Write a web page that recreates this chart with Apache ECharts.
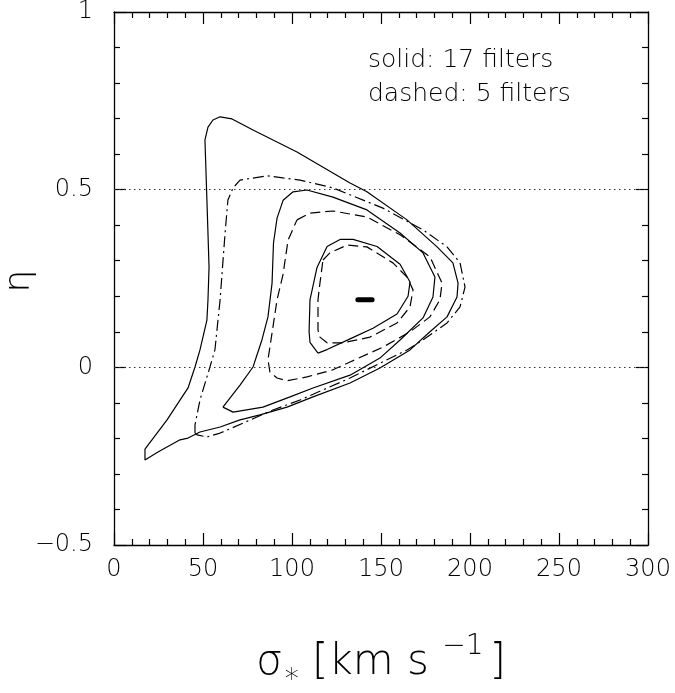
<!DOCTYPE html>
<html lang="en">
<head>
    <meta charset="UTF-8">
    <title>contours</title>
    <script src="https://cdn.jsdelivr.net/npm/echarts@6/dist/echarts.min.js"></script>
    <style>
        html, body { margin: 0; padding: 0; background: #fff; }
        #main { width: 675px; height: 693px; }
    </style>
</head>
<body>
    <div id="main"></div>
    <script>
        // axis ranges / ticks
        var xTicks = [0, 50, 100, 150, 200, 250, 300];
        var yTicks = [-0.5, 0, 0.5, 1];
        var refLines = [0, 0.5];

        // contours, [sigma, eta]
        var outerSolid = [
            [17.4, -0.23], [29.8, -0.148], [41.6, -0.058], [45.5, 0.001], [48.3, 0.049],
            [52.2, 0.133], [52.8, 0.19], [53.4, 0.282], [52.2, 0.471], [51.1, 0.64],
            [52.8, 0.676], [55.6, 0.696], [59.6, 0.705], [66.3, 0.699], [78.1, 0.668],
            [102.8, 0.606], [132.6, 0.519], [142.1, 0.494], [164.6, 0.415], [181.5, 0.339],
            [190.4, 0.294], [193.3, 0.237], [192.7, 0.198], [187.1, 0.142], [177.5, 0.1],
            [166.3, 0.049], [149.4, -0.002], [132.6, -0.044], [111.8, -0.083], [97.2, -0.112],
            [82.0, -0.134], [70.8, -0.148], [59.6, -0.168], [48.3, -0.182], [41.6, -0.199],
            [37.1, -0.204], [24.7, -0.238], [17.4, -0.261]
        ];
        var outerDashed = [
            [45.5, -0.185], [45.5, -0.162], [48.3, -0.092], [53.9, 0.001], [56.7, 0.049],
            [59.6, 0.19], [62.4, 0.378], [64.0, 0.471], [66.9, 0.505], [70.8, 0.527],
            [86.0, 0.539], [94.9, 0.533], [104.5, 0.527], [123.0, 0.505], [151.1, 0.448],
            [173.6, 0.387], [187.1, 0.339], [194.4, 0.294], [197.2, 0.226], [194.4, 0.17],
            [187.1, 0.125], [173.6, 0.077], [164.6, 0.049], [132.6, -0.03], [104.5, -0.092],
            [89.3, -0.12], [72.5, -0.157], [59.6, -0.185], [52.2, -0.196], [46.6, -0.19]
        ];
        var midSolid = [
            [61.2, -0.112], [66.9, -0.126], [83.7, -0.112], [98.9, -0.083], [111.8, -0.058],
            [132.6, -0.022], [149.4, 0.026], [160.7, 0.077], [173.6, 0.139], [179.2, 0.198],
            [180.3, 0.254], [173.6, 0.322], [160.7, 0.378], [142.1, 0.443], [123.0, 0.479],
            [108.4, 0.499], [100.6, 0.494], [95.0, 0.47], [91.6, 0.42], [89.6, 0.35],
            [88.8, 0.237], [86.5, 0.142], [83.1, 0.077], [78.1, 0.001], [70.8, -0.05]
        ];
        var midDashed = [
            [102.8, 0.415], [110.1, 0.434], [123.0, 0.44], [142.1, 0.423], [160.7, 0.373],
            [177.5, 0.311], [184.3, 0.237], [183.1, 0.19], [177.5, 0.142], [166.3, 0.1],
            [151.1, 0.057], [132.6, 0.015], [123.0, -0.007], [108.4, -0.027], [97.2, -0.038],
            [91.6, -0.03], [87.6, -0.013], [86.5, 0.021], [88.8, 0.097], [91.6, 0.19],
            [94.9, 0.26], [97.8, 0.358]
        ];
        var innerSolid = [
            [114.6, 0.04], [110.1, 0.07], [109.6, 0.1], [110.1, 0.19], [114.0, 0.28],
            [119.7, 0.34], [127.0, 0.36], [134.3, 0.36], [147.8, 0.34], [160.7, 0.29],
            [166.3, 0.24], [165.2, 0.2], [159.0, 0.15], [145.5, 0.11], [132.6, 0.08],
            [119.7, 0.05]
        ];
        var innerDashed = [
            [117.4, 0.302], [121.3, 0.322], [130.9, 0.344], [142.1, 0.339], [156.7, 0.294],
            [164.6, 0.254], [168.0, 0.218], [166.3, 0.17], [159.0, 0.125], [143.8, 0.085],
            [128.7, 0.069], [119.7, 0.069], [115.7, 0.085], [114.6, 0.105], [114.6, 0.19],
            [115.7, 0.237]
        ];
        var bestFit = [[137, 0.19], [145, 0.19]];

        var legendLines = ['solid: 17 filters', 'dashed: 5 filters'];

        function closed (pts) {
            return pts.concat([pts[0]]);
        }

        var fontFam = 'DejaVu Sans';
        var labelStyle = { fontFamily: fontFam, fontSize: 24, fontWeight: 200, color: '#000' };

        function makeX (pos, show) {
            return {
                type: 'value', position: pos, min: xTicks[0], max: xTicks[xTicks.length - 1],
                interval: xTicks[1] - xTicks[0],
                axisLine: { show: true, onZero: false, lineStyle: { color: '#000', width: 1.3 } },
                axisTick: { show: true, inside: true, length: 12, lineStyle: { color: '#000', width: 1.2 } },
                minorTick: { show: true, splitNumber: 5, length: 6, lineStyle: { color: '#000', width: 1.2 } },
                splitLine: { show: false },
                axisLabel: Object.assign({ show: show, margin: 13 }, labelStyle)
            };
        }
        function makeY (pos, show) {
            return {
                type: 'value', position: pos, min: yTicks[0], max: yTicks[yTicks.length - 1],
                interval: yTicks[1] - yTicks[0],
                axisLine: { show: true, onZero: false, lineStyle: { color: '#000', width: 1.3 } },
                axisTick: { show: true, inside: true, length: 12, lineStyle: { color: '#000', width: 1.2 } },
                minorTick: { show: true, splitNumber: 5, length: 6, lineStyle: { color: '#000', width: 1.2 } },
                splitLine: { show: false },
                axisLabel: Object.assign({
                    show: show, margin: 21,
                    formatter: function (v) { return v < 0 ? '\u2212' + (-v) : String(v); }
                }, labelStyle)
            };
        }

        var xBottom = makeX('bottom', true);
        xBottom.name = '{s|\u03c3}{sub|*}{s| [km s }{sup|\u22121}{s|]}';
        xBottom.nameLocation = 'middle';
        xBottom.nameGap = 86;
        xBottom.nameTextStyle = {
            rich: {
                s: { fontFamily: fontFam, fontSize: 42, fontWeight: 200, color: '#000' },
                sub: { fontFamily: fontFam, fontSize: 28, fontWeight: 200, color: '#000', padding: [36, 0, 0, 2] },
                sup: { fontFamily: fontFam, fontSize: 28, fontWeight: 200, color: '#000', padding: [0, 6, 32, 0] }
            }
        };

        function contour (data, dash) {
            return {
                type: 'line', data: closed(data), showSymbol: false, silent: true,
                lineStyle: { color: '#000', width: 1.2, type: dash }
            };
        }

        var series = [
            contour(outerSolid, 'solid'),
            contour(outerDashed, [11, 4, 2, 4]),
            contour(midSolid, 'solid'),
            contour(midDashed, [10, 5]),
            contour(innerSolid, 'solid'),
            contour(innerDashed, [10, 5]),
            {
                type: 'line', data: bestFit, showSymbol: false, silent: true,
                lineStyle: { color: '#000', width: 5, cap: 'round' },
                markLine: {
                    silent: true, symbol: 'none', label: { show: false },
                    lineStyle: { color: '#333', width: 1, type: [1.5, 3.5] },
                    data: refLines.map(function (v) { return { yAxis: v }; })
                }
            }
        ];

        var chart = echarts.init(document.getElementById('main'));
        chart.setOption({
            animation: false,
            backgroundColor: '#fff',
            title: {
                text: legendLines.join('\n'), left: 363, top: 38,
                textStyle: { fontFamily: fontFam, fontSize: 25, fontWeight: 200, color: '#000', lineHeight: 34 }
            },
            grid: { left: 114, top: 12, width: 534, height: 533, outerBoundsMode: 'none', containLabel: false },
            xAxis: [xBottom, makeX('top', false)],
            yAxis: [makeY('left', true), makeY('right', false)],
            graphic: [{
                type: 'text', x: 20, y: 281, rotation: Math.PI / 2,
                style: {
                    text: '\u03b7', fontFamily: fontFam, fontSize: 36, fontWeight: 200,
                    fill: '#000', align: 'center', verticalAlign: 'middle'
                }
            }],
            series: series
        });
    </script>
</body>
</html>
